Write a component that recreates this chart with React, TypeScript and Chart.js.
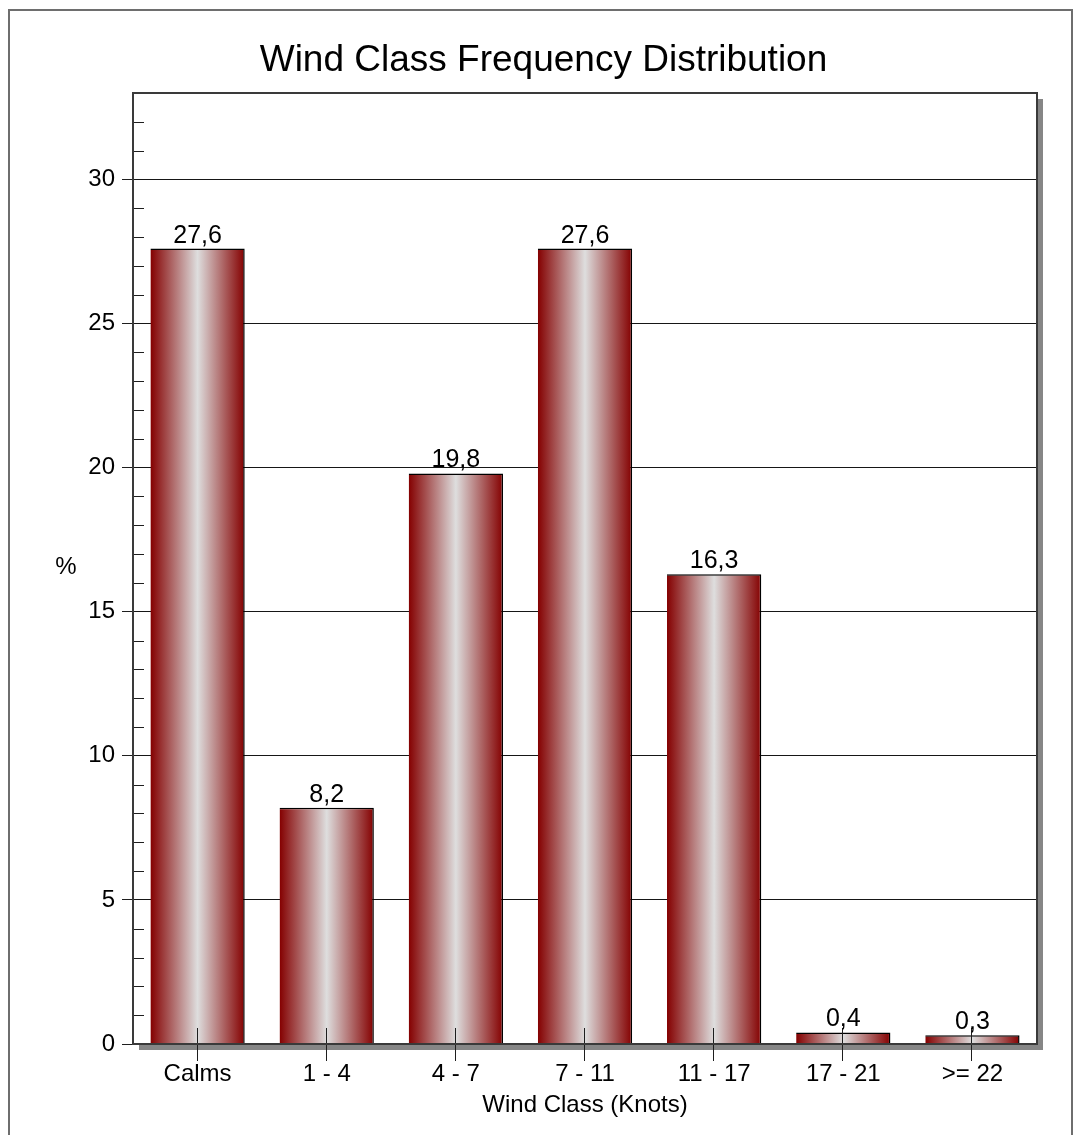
import React, { useEffect, useRef } from "react";
import { Chart, registerables } from "chart.js";

Chart.register(...registerables);

const categories = ["Calms", "1 - 4", "4 - 7", "7 - 11", "11 - 17", "17 - 21", ">= 22"];
const frequencies = [27.6, 8.2, 19.8, 27.6, 16.3, 0.4, 0.3];
const yMajorTicks = [0, 5, 10, 15, 20, 25, 30];
const yMinorTicks = [1, 2, 3, 4, 6, 7, 8, 9, 11, 12, 13, 14, 16, 17, 18, 19, 21, 22, 23, 24, 26, 27, 28, 29, 31, 32];
const yMin = 0;
const yMax = 33;
const chartTitle = "Wind Class Frequency Distribution";
const xTitle = "Wind Class (Knots)";
const yTitle = "%";

const FONT = '"Liberation Sans", Arial, Helvetica, sans-serif';
const CAT_PCT = 0.73;
const W = 1073;
const H = 1135;

const fmt = (v: number) => v.toFixed(1).replace(".", ",");

const decor = {
  id: "decor",
  beforeDraw(chart: any) {
    const { ctx, chartArea: a } = chart;
    ctx.save();
    ctx.fillStyle = "#ffffff";
    ctx.fillRect(0, 0, W, H);
    // outer frame
    ctx.strokeStyle = "#6e6e6e";
    ctx.lineWidth = 2;
    ctx.strokeRect(9, 10, 1063, H + 20);
    // shadow
    ctx.fillStyle = "#868686";
    ctx.fillRect(a.left + 6, a.top + 6, a.right - a.left, a.bottom - a.top);
    ctx.fillStyle = "#ffffff";
    ctx.fillRect(a.left, a.top, a.right - a.left, a.bottom - a.top);
    // title
    ctx.fillStyle = "#000000";
    ctx.font = `37px ${FONT}`;
    ctx.textAlign = "center";
    ctx.textBaseline = "alphabetic";
    ctx.fillText(chartTitle, 543.5, 71);
    // y title
    ctx.font = `24px ${FONT}`;
    ctx.textBaseline = "middle";
    ctx.fillText(yTitle, 66, (a.top + a.bottom) / 2 - 1);
    ctx.restore();
  },
  afterDatasetsDraw(chart: any) {
    const { ctx, chartArea: a } = chart;
    const xs = chart.scales.x;
    const ys = chart.scales.y;
    ctx.save();
    ctx.strokeStyle = "#1e1e1e";
    ctx.lineWidth = 1;
    // minor y ticks (inside)
    ctx.beginPath();
    yMinorTicks.forEach((v) => {
      const y = Math.round(ys.getPixelForValue(v)) + 0.5;
      ctx.moveTo(a.left, y);
      ctx.lineTo(a.left + 11, y);
    });
    // x tick marks crossing the axis
    categories.forEach((_, i) => {
      const x = Math.round(xs.getPixelForValue(i)) - 0.5;
      ctx.moveTo(x, a.bottom - 16);
      ctx.lineTo(x, a.bottom + 17);
    });
    ctx.stroke();
    // plot border
    ctx.strokeStyle = "#3a3a3a";
    ctx.lineWidth = 2;
    ctx.strokeRect(a.left, a.top, a.right - a.left, a.bottom - a.top);
    // value labels
    const meta = chart.getDatasetMeta(0);
    ctx.fillStyle = "#000000";
    ctx.font = `25px ${FONT}`;
    ctx.textAlign = "center";
    ctx.textBaseline = "alphabetic";
    meta.data.forEach((el: any, i: number) => {
      ctx.fillText(fmt(frequencies[i]), el.x, el.y - 6);
    });
    ctx.restore();
  },
};

export default function App() {
  const ref = useRef<HTMLCanvasElement | null>(null);
  useEffect(() => {
    document.body.style.margin = "0";
    const canvas = ref.current;
    if (!canvas) return;
    const chart = new Chart(canvas, {
      type: "bar",
      data: {
        labels: categories,
        datasets: [
          {
            data: frequencies,
            backgroundColor: (c: any) => {
              const ch = c.chart;
              const xs = ch.scales && ch.scales.x;
              if (c.type !== "data" || !xs || !isFinite(xs.width)) return "#8b0000";
              const cx = xs.getPixelForValue(c.dataIndex);
              const half = ((xs.right - xs.left) / categories.length) * CAT_PCT / 2;
              if (!isFinite(cx) || !isFinite(half) || half <= 0) return "#8b0000";
              const g = ch.ctx.createLinearGradient(cx - half, 0, cx + half, 0);
              g.addColorStop(0, "#840000");
              g.addColorStop(0.5, "#dedede");
              g.addColorStop(1, "#840000");
              return g;
            },
            borderColor: "#000000",
            borderWidth: { top: 1.5, right: 1.5, left: 0, bottom: 0 },
            borderSkipped: "start",
            barPercentage: 1,
            categoryPercentage: CAT_PCT,
          },
        ],
      },
      options: {
        responsive: false,
        animation: false,
        devicePixelRatio: 1,
        layout: { padding: { top: 93, right: 36, bottom: 0, left: 0 } },
        plugins: {
          legend: { display: false },
          title: { display: false },
          tooltip: { enabled: false },
        },
        scales: {
          x: {
            offset: true,
            grid: { display: false, drawTicks: false },
            border: { display: false },
            ticks: {
              color: "#000000",
              font: { family: FONT, size: 24 },
              padding: 16,
              maxRotation: 0,
              autoSkip: false,
            },
            title: {
              display: true,
              text: xTitle,
              color: "#000000",
              font: { family: FONT, size: 24 },
              padding: { top: 0, bottom: 15 },
            },
            afterFit: (s: any) => {
              s.height = 91;
            },
          },
          y: {
            min: yMin,
            max: yMax,
            grid: {
              color: "#161616",
              lineWidth: 1,
              drawTicks: true,
              tickLength: 11,
              tickColor: "#1e1e1e",
            },
            border: { display: false },
            ticks: {
              color: "#000000",
              font: { family: FONT, size: 24 },
              padding: 7,
            },
            afterBuildTicks: (s: any) => {
              s.ticks = yMajorTicks.map((v) => ({ value: v }));
            },
            afterFit: (s: any) => {
              s.width = 133;
            },
          },
        },
      },
      plugins: [decor],
    });
    return () => chart.destroy();
  }, []);
  return <canvas ref={ref} width={W} height={H} style={{ display: "block", width: W, height: H }} />;
}
